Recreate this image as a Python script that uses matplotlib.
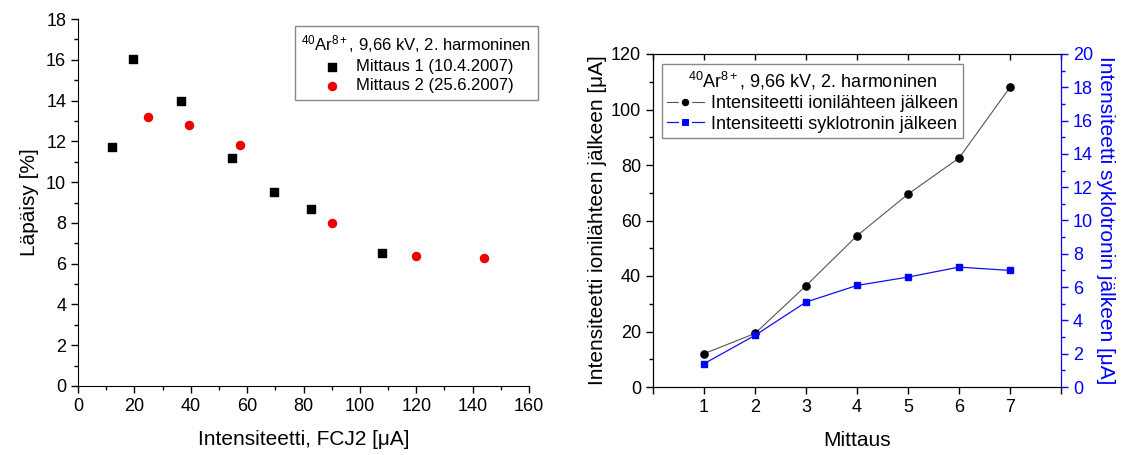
import matplotlib
matplotlib.use("Agg")
import matplotlib.pyplot as plt
from matplotlib.ticker import MultipleLocator, FixedLocator
from matplotlib.lines import Line2D

plt.rcParams['font.family'] = ['Liberation Sans', 'DejaVu Sans']
plt.rcParams['mathtext.fontset'] = 'custom'
plt.rcParams['mathtext.rm'] = 'Liberation Sans'
plt.rcParams['mathtext.it'] = 'Liberation Sans:italic'
plt.rcParams['mathtext.bf'] = 'Liberation Sans:bold'

# ---- data: left panel ----
m1_x = [12, 19.5, 36.5, 54.5, 69.5, 82.5, 108]
m1_y = [11.7, 16.05, 14.0, 11.2, 9.5, 8.7, 6.5]
m2_x = [25, 39.5, 57.5, 90, 120, 144]
m2_y = [13.2, 12.8, 11.8, 8.0, 6.4, 6.3]

# ---- data: right panel ----
mittaus = [1, 2, 3, 4, 5, 6, 7]
ion_source = [12, 19.3, 36.5, 54.5, 69.5, 82.5, 108]
cyclotron = [1.4, 3.1, 5.1, 6.1, 6.6, 7.2, 7.0]
x_ticklabels = ['', '1', '2', '3', '4', '5', '6', '7', '']

legend_title = r'$^{40}$Ar$^{8+}$, 9,66 kV, 2. harmoninen'

fig = plt.figure(figsize=(11.23, 4.55), dpi=100)

TICK_FS = 13
LABEL_FS = 15
LEG_FS = 12
LEG2_FS = 13

# ---------------- left panel ----------------
ax1 = fig.add_axes([78/1123, 1-386/455, (529-78)/1123, (386-19)/455])
ax1.scatter(m1_x, m1_y, marker='s', s=30, color='black', label='Mittaus 1 (10.4.2007)', zorder=3)
ax1.scatter(m2_x, m2_y, marker='o', s=34, color='#ee0000', label='Mittaus 2 (25.6.2007)', zorder=3)
ax1.set_xlim(0, 160)
ax1.set_ylim(0, 18)
ax1.xaxis.set_major_locator(MultipleLocator(20))
ax1.xaxis.set_minor_locator(MultipleLocator(10))
ax1.yaxis.set_major_locator(MultipleLocator(2))
ax1.yaxis.set_minor_locator(MultipleLocator(1))
ax1.spines['top'].set_visible(False)
ax1.spines['right'].set_visible(False)
ax1.tick_params(which='major', direction='out', length=5, width=1, labelsize=TICK_FS)
ax1.tick_params(which='minor', direction='out', length=3, width=1)
ax1.set_xlabel('Intensiteetti, FCJ2 [μA]', fontsize=LABEL_FS, labelpad=11)
ax1.set_ylabel('Läpäisy [%]', fontsize=LABEL_FS, labelpad=5)
leg1 = ax1.legend(title=legend_title, loc='upper right', bbox_to_anchor=(1.02, 0.98),
                  fontsize=LEG_FS, title_fontsize=LEG_FS, frameon=True, fancybox=False,
                  edgecolor='#888888', framealpha=1, borderpad=0.4, labelspacing=0.25,
                  handlelength=1.6, handletextpad=0.6, borderaxespad=0,
                  alignment='center')
leg1.get_frame().set_linewidth(1.0)

# ---------------- right panel ----------------
ax2 = fig.add_axes([653/1123, 1-387/455, (1061-653)/1123, (387-54)/455])
ax3 = ax2.twinx()
ax2.plot(mittaus, ion_source, '-', color='#555555', lw=0.8, marker='o', ms=5.2,
         mfc='black', mec='black', zorder=3)
ax3.plot(mittaus, cyclotron, '-', color='#1010ee', lw=0.9, marker='s', ms=4.5,
         mfc='#0000ff', mec='#0000ff', zorder=3)
h1 = Line2D([], [], color='#555555', lw=0.8, marker='o', ms=7.6, mfc='black',
            mec='white', mew=2.2, label='Intensiteetti ionilähteen jälkeen')
h2 = Line2D([], [], color='#1010ee', lw=0.9, marker='s', ms=6.9, mfc='#0000ff',
            mec='white', mew=2.2, label='Intensiteetti syklotronin jälkeen')
ax2.set_xlim(0, 8)
ax2.set_ylim(0, 120)
ax3.set_ylim(0, 20)
ax2.xaxis.set_major_locator(FixedLocator(range(0, 9)))
ax2.set_xticklabels(x_ticklabels)
ax2.yaxis.set_major_locator(MultipleLocator(20))
ax2.yaxis.set_minor_locator(MultipleLocator(10))
ax3.yaxis.set_major_locator(MultipleLocator(2))
ax3.yaxis.set_minor_locator(MultipleLocator(1))
ax2.tick_params(axis='x', which='major', direction='out', length=5, width=1, labelsize=TICK_FS, top=True)
ax2.tick_params(axis='y', which='major', direction='out', length=5, width=1, labelsize=TICK_FS)
ax2.tick_params(axis='y', which='minor', direction='out', length=3, width=1)
ax3.tick_params(axis='y', which='major', direction='out', length=5, width=1, labelsize=TICK_FS,
                colors='#0000ff')
ax3.tick_params(axis='y', which='minor', direction='out', length=3, width=1, colors='#0000ff')
ax3.spines['right'].set_color('#0000ff')
# top ticks inward
for t in ax2.xaxis.get_major_ticks():
    t.tick2line.set_marker(3)  # TICKDOWN
    t.tick2line.set_markersize(4)
ax2.set_xlabel('Mittaus', fontsize=LABEL_FS, labelpad=11)
ax2.set_ylabel('Intensiteetti ionilähteen jälkeen [μA]', fontsize=LABEL_FS, labelpad=3)
ax3.set_ylabel('Intensiteetti syklotronin jälkeen [μA]', fontsize=LABEL_FS, color='#0000ff',
               rotation=270, labelpad=16)
leg2 = ax3.legend(handles=[h1, h2], title=legend_title, loc='upper left',
                  bbox_to_anchor=(0.022, 0.97), fontsize=LEG2_FS, title_fontsize=LEG2_FS,
                  frameon=True, fancybox=False, edgecolor='#888888', framealpha=1,
                  borderpad=0.3, labelspacing=0.2, handlelength=2.0, handletextpad=0.4,
                  borderaxespad=0)
leg2.get_frame().set_linewidth(1.0)

fig.savefig('out.png', dpi=100)
